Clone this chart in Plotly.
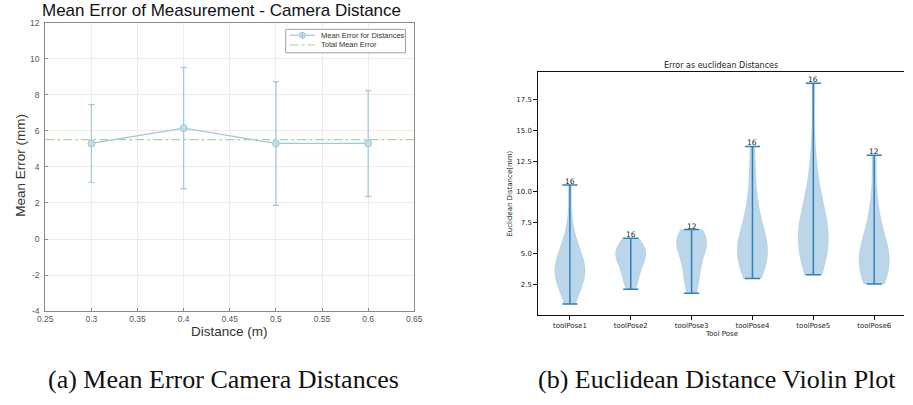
import numpy as np
import plotly.graph_objects as go

# ---------------- data: left panel ----------------
distances = [0.3, 0.4, 0.5, 0.6]
mean_error = [5.3, 6.15, 5.3, 5.3]
std_error = [2.15, 3.35, 3.43, 2.93]
total_mean_error = 5.51
left_xticks = [0.25, 0.3, 0.35, 0.4, 0.45, 0.5, 0.55, 0.6, 0.65]
left_xticklabels = ["0.25", "0.3", "0.35", "0.4", "0.45", "0.5", "0.55", "0.6", "0.65"]
left_yticks = [-4, -2, 0, 2, 4, 6, 8, 10, 12]
left_yticklabels = ["-4", "-2", "0", "2", "4", "6", "8", "10", "12"]
left_xlim = [0.25, 0.65]
left_ylim = [-4, 12]
legend_labels = ["Mean Error for Distances", "Total Mean Error"]

# ---------------- data: right panel ----------------
tool_poses = ["toolPose1", "toolPose2", "toolPose3", "toolPose4", "toolPose5", "toolPose6"]
pose1 = [0.92, 1.8, 2.3, 2.7, 3.0, 3.3, 3.5, 3.7, 3.9, 4.1, 4.4, 4.8, 5.3, 5.9, 7.2, 10.57]
pose2 = [2.13, 2.6, 3.0, 3.4, 3.8, 4.1, 4.4, 4.6, 4.8, 5.0, 5.1, 5.3, 5.5, 5.8, 6.0, 6.25]
pose3 = [1.79, 2.6, 3.3, 4.0, 4.6, 5.2, 5.7, 5.9, 6.1, 6.3, 6.6, 6.96]
pose4 = [3.0, 3.6, 4.0, 4.4, 4.7, 5.0, 5.2, 5.5, 5.8, 6.2, 6.7, 7.3, 8.2, 9.5, 11.5, 13.69]
pose5 = [3.29, 4.0, 4.6, 5.1, 5.5, 5.9, 6.2, 6.5, 6.8, 7.2, 7.7, 8.3, 9.2, 10.5, 13.0, 18.8]
pose6 = [2.55, 3.1, 3.6, 4.0, 4.3, 4.6, 4.9, 5.4, 6.1, 7.2, 9.0, 12.97]
pose_data = [pose1, pose2, pose3, pose4, pose5, pose6]
right_yticks = [2.5, 5.0, 7.5, 10.0, 12.5, 15.0, 17.5]
right_yticklabels = ["2.5", "5.0", "7.5", "10.0", "12.5", "15.0", "17.5"]

W, H = 913, 405


def px_x(p):
    return p / W


def px_y(p):
    return 1 - p / H


fig = go.Figure()

# ---- left: errorbar plot ----
light_blue = "#9dc9d9"
marker_fill = "rgba(190,222,232,0.9)"
green = "#a9d69c"
fig.add_trace(go.Scatter(
    x=distances, y=mean_error, mode="lines+markers",
    name=legend_labels[0],
    line=dict(color=light_blue, width=1.2),
    marker=dict(symbol="circle", size=7, color=marker_fill,
                line=dict(color=light_blue, width=1)),
    error_y=dict(type="data", array=std_error, visible=True,
                 color=light_blue, thickness=1.2, width=3),
    xaxis="x", yaxis="y", showlegend=False,
))
fig.add_trace(go.Scatter(
    x=left_xlim, y=[total_mean_error, total_mean_error], mode="lines",
    name=legend_labels[1],
    line=dict(color=green, width=1.2, dash="dashdot"),
    xaxis="x", yaxis="y", showlegend=False,
))

# ---- right: violin plot ----
positions = list(range(1, len(tool_poses) + 1))
body_fill = "rgba(31,119,180,0.3)"
line_blue = "#2f80bf"
for pos, d in zip(positions, pose_data):
    arr = np.asarray(d, dtype=float)
    bw = arr.std(ddof=1) * len(arr) ** (-0.2)
    fig.add_trace(go.Violin(
        x=[pos] * len(arr), y=arr, width=0.5, scalemode="width",
        spanmode="hard", bandwidth=bw, points=False,
        fillcolor=body_fill, line=dict(color="rgba(31,119,180,0.15)", width=0.5),
        box_visible=False, meanline_visible=False, showlegend=False,
        hoverinfo="skip", xaxis="x2", yaxis="y2",
    ))

bx, by = [], []
cap_half = 0.125
for pos, d in zip(positions, pose_data):
    lo, hi = min(d), max(d)
    bx += [pos, pos, None, pos - cap_half, pos + cap_half, None, pos - cap_half, pos + cap_half, None]
    by += [lo, hi, None, lo, lo, None, hi, hi, None]
fig.add_trace(go.Scatter(x=bx, y=by, mode="lines", line=dict(color=line_blue, width=1.5),
                         showlegend=False, hoverinfo="skip", xaxis="x2", yaxis="y2"))

annotations = []
for pos, d in zip(positions, pose_data):
    annotations.append(dict(x=pos, y=max(d), xref="x2", yref="y2", text=str(len(d)),
                            showarrow=False, yanchor="bottom", yshift=-3,
                            font=dict(family="DejaVu Sans", size=7.5, color="#222")))

# titles / labels
annotations += [
    dict(x=px_x(218), y=px_y(6), xref="paper", yref="paper", text="Mean Error of Measurement - Camera Distance",
         showarrow=False, xanchor="center", yanchor="middle",
         font=dict(family="Liberation Sans", size=17, color="#111")),
    dict(x=px_x(13), y=px_y(164), xref="paper", yref="paper", text="Mean Error (mm)", textangle=-90,
         showarrow=False, xanchor="center", yanchor="middle",
         font=dict(family="Liberation Sans", size=13.5, color="#333")),
    dict(x=px_x(226), y=px_y(335), xref="paper", yref="paper", text="Distance (m)",
         showarrow=False, xanchor="center", yanchor="middle",
         font=dict(family="Liberation Sans", size=13.5, color="#333")),
    dict(x=px_x(727), y=px_y(62), xref="paper", yref="paper", text="Error as euclidean Distances",
         showarrow=False, xanchor="center", yanchor="middle",
         font=dict(family="DejaVu Sans", size=8, color="#222")),
    dict(x=px_x(512), y=px_y(193), xref="paper", yref="paper", text="Euclidean Distance(mm)", textangle=-90,
         showarrow=False, xanchor="center", yanchor="middle",
         font=dict(family="DejaVu Sans", size=7, color="#222")),
    dict(x=px_x(727), y=px_y(337), xref="paper", yref="paper", text="Tool Pose",
         showarrow=False, xanchor="center", yanchor="middle",
         font=dict(family="DejaVu Sans", size=7, color="#222")),
    dict(x=px_x(220), y=px_y(384), xref="paper", yref="paper", text="(a) Mean Error Camera Distances",
         showarrow=False, xanchor="center", yanchor="middle",
         font=dict(family="Liberation Serif", size=26, color="#111")),
    dict(x=px_x(722), y=px_y(384), xref="paper", yref="paper", text="(b) Euclidean Distance Violin Plot",
         showarrow=False, xanchor="center", yanchor="middle",
         font=dict(family="Liberation Serif", size=26, color="#111")),
]

# ---- custom legend for the left panel (MATLAB style compact box) ----
leg_x0, leg_x1, leg_y0, leg_y1 = 283, 405, 25, 49
row_y = [31, 41]
shapes = [
    dict(type="rect", xref="paper", yref="paper", x0=px_x(leg_x0), x1=px_x(leg_x1),
         y0=px_y(leg_y1), y1=px_y(leg_y0), line=dict(color="#a0a0a0", width=1), fillcolor="white",
         layer="above"),
    dict(type="line", xref="paper", yref="paper", x0=px_x(287), x1=px_x(313), y0=px_y(row_y[0]),
         y1=px_y(row_y[0]), line=dict(color=light_blue, width=1.2), layer="above"),
    dict(type="circle", xref="paper", yref="paper", xsizemode="pixel", ysizemode="pixel",
         xanchor=px_x(300), yanchor=px_y(row_y[0]), x0=-3, x1=3, y0=-3, y1=3,
         line=dict(color=light_blue, width=1), fillcolor=marker_fill, layer="above"),
    dict(type="line", xref="paper", yref="paper", x0=px_x(300), x1=px_x(300), y0=px_y(row_y[0] - 3.5),
         y1=px_y(row_y[0] + 3.5), line=dict(color=light_blue, width=1), layer="above"),
    dict(type="line", xref="paper", yref="paper", x0=px_x(287), x1=px_x(313), y0=px_y(row_y[1]),
         y1=px_y(row_y[1]), line=dict(color=green, width=1.2, dash="dashdot"), layer="above"),
]
for lbl, ry in zip(legend_labels, row_y):
    annotations.append(dict(x=px_x(317), y=px_y(ry), xref="paper", yref="paper", text=lbl,
                            showarrow=False, xanchor="left", yanchor="middle",
                            font=dict(family="Liberation Sans", size=7.5, color="#333")))

all_vals = np.concatenate([np.asarray(d, float) for d in pose_data])
span = all_vals.max() - all_vals.min()
right_ylim = [all_vals.min() - 0.05 * span, all_vals.max() + 0.05 * span]

fig.update_layout(
    width=W, height=H, margin=dict(l=0, r=0, t=0, b=0),
    paper_bgcolor="white", plot_bgcolor="white",
    violinmode="overlay",
    annotations=annotations,
    shapes=shapes,
    showlegend=False,
    xaxis=dict(domain=[px_x(38), px_x(414)], range=left_xlim, tickvals=left_xticks,
               ticktext=left_xticklabels, showgrid=True, gridcolor="#ececec", gridwidth=1,
               zeroline=False, showline=True, linecolor="#8a8a8a", linewidth=1, mirror=True,
               ticks="inside", ticklen=3, tickcolor="#8a8a8a",
               tickfont=dict(family="Liberation Sans", size=8.5, color="#555"), anchor="y"),
    yaxis=dict(domain=[px_y(314), px_y(18)], range=left_ylim, tickvals=left_yticks,
               ticktext=left_yticklabels, showgrid=True, gridcolor="#ececec", gridwidth=1,
               zeroline=False, showline=True, linecolor="#8a8a8a", linewidth=1, mirror=True,
               ticks="inside", ticklen=3, tickcolor="#8a8a8a", ticklabelstandoff=3,
               tickfont=dict(family="Liberation Sans", size=8.5, color="#555"), anchor="x"),
    xaxis2=dict(domain=[px_x(540), 1.0], range=[0.475, 6.49], tickvals=positions, ticktext=tool_poses,
                showgrid=False, zeroline=False, showline=True, linecolor="#111", linewidth=1.2,
                mirror=True, ticks="outside", ticklen=3.5, tickcolor="#111",
                tickfont=dict(family="DejaVu Sans", size=7, color="#222"), anchor="y2"),
    yaxis2=dict(domain=[px_y(318), px_y(69)], range=right_ylim, tickvals=right_yticks,
                ticktext=right_yticklabels, showgrid=False, zeroline=False, showline=True,
                linecolor="#111", linewidth=1.2, ticks="outside", ticklen=3.5, tickcolor="#111",
                tickfont=dict(family="DejaVu Sans", size=7, color="#222"), anchor="x2"),
)

fig.write_html("out.html")
